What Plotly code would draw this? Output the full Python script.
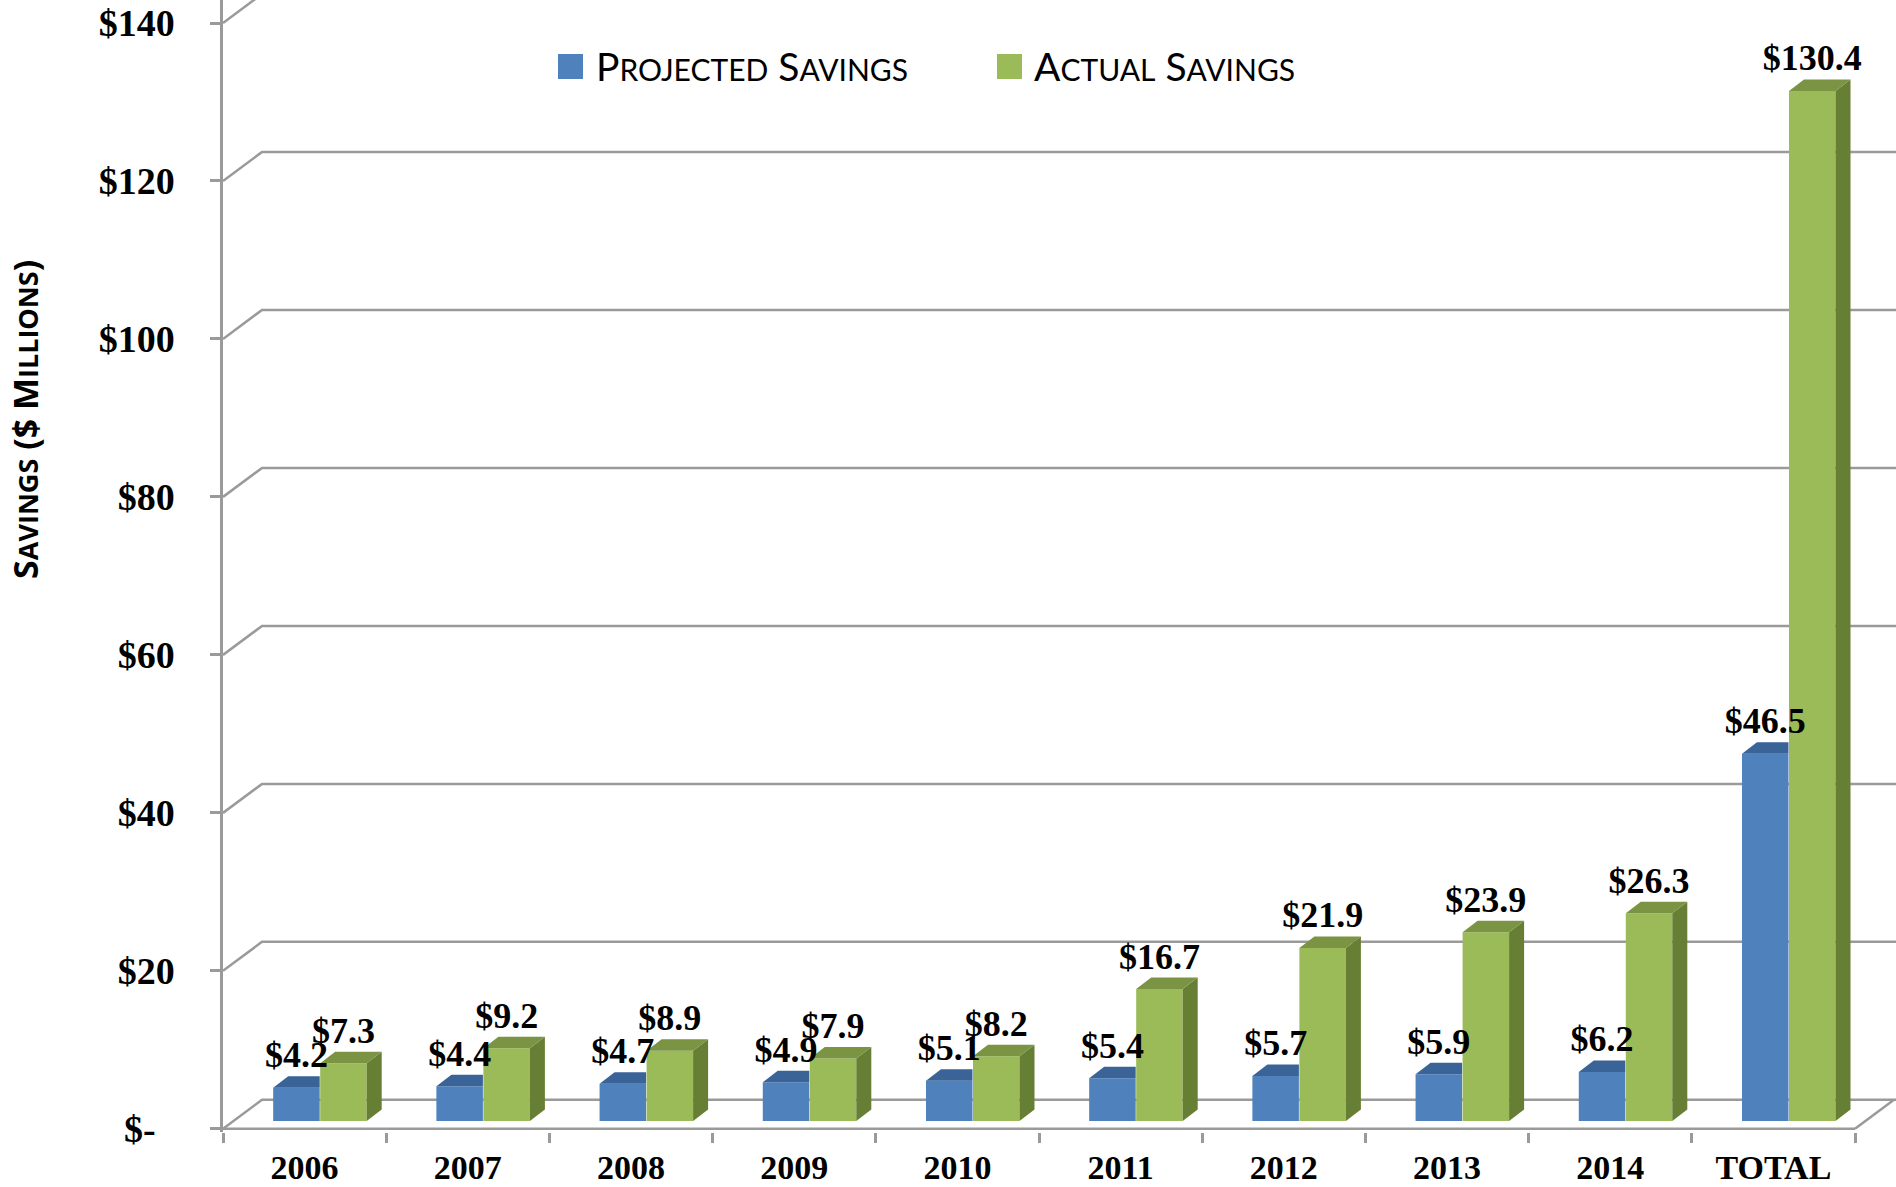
import plotly.graph_objects as go

# ---------------- data ----------------
categories = ["2006", "2007", "2008", "2009", "2010", "2011", "2012", "2013", "2014", "TOTAL"]
projected = [4.2, 4.4, 4.7, 4.9, 5.1, 5.4, 5.7, 5.9, 6.2, 46.5]
actual = [7.3, 9.2, 8.9, 7.9, 8.2, 16.7, 21.9, 23.9, 26.3, 130.4]
series_names = ["Projected Savings", "Actual Savings"]
y_tickvals = [0, 20, 40, 60, 80, 100, 120, 140]
y_ticktext = ["$-\u00a0\u00a0", "$20", "$40", "$60", "$80", "$100", "$120", "$140"]
y_title = "Savings ($ Millions)"

# ---------------- style / geometry ----------------
W, H = 1896, 1187
PX_CAT = 163.2          # px per category
PX_UNIT = 7.9           # px per $M
ML = 223                # left margin (front y-axis line)
Y0_PX = 1129            # pixel of value 0 on the front plane
Y_MIN = -0.4
PLOT_W = W - ML
X_MIN = -0.5
X_MAX = X_MIN + PLOT_W / PX_CAT
Y_MAX = Y0_PX / PX_UNIT
PLOT_BOTTOM = Y0_PX - Y_MIN * PX_UNIT
MB = H - PLOT_BOTTOM
PLOT_H = PLOT_BOTTOM

BLUE, BLUE_TOP = "#4F81BD", "#3A6498"
GREEN, GREEN_TOP, GREEN_SIDE = "#9BBB59", "#7A9444", "#667F35"
GRID = "#9A9A9A"

BW = 0.285              # bar width (category units)
OFF_P, OFF_A = -0.05, 0.238
BASE = 1.0              # bars stand on the middle of the floor depth
SDX, SDY = 15 / PX_CAT, 11.5 / PX_UNIT      # bar extrusion
DXB, DYB = 39 / PX_CAT, 29 / PX_UNIT        # back-wall offset

SERIF = "Liberation Serif"
SANS = "Lato"
SANS_BOLD = "Open Sans"

def small_caps(s, small):
    out = []
    for ch in s:
        if ch.islower():
            out.append(f"<span style='font-size:{small}px'>{ch.upper()}</span>")
        else:
            out.append(ch)
    return "".join(out).replace("</span><span style='font-size:%dpx'>" % small, "")

def px_x(px):
    return (px - ML) / PLOT_W

def px_y(py):
    return (PLOT_BOTTOM - py) / PLOT_H

idx = list(range(len(categories)))
xp = [i + OFF_P for i in idx]
xa = [i + OFF_A for i in idx]

fig = go.Figure()

# front faces
fig.add_trace(go.Bar(x=xp, y=projected, base=BASE, width=BW, name=series_names[0],
                     marker=dict(color=BLUE, line=dict(width=0)), showlegend=False,
                     hoverinfo="skip"))
fig.add_trace(go.Bar(x=xa, y=actual, base=BASE, width=BW, name=series_names[1],
                     marker=dict(color=GREEN, line=dict(width=0)), showlegend=False,
                     hoverinfo="skip"))

def poly_trace(polys, color):
    xs, ys = [], []
    for p in polys:
        for (a, b) in p + [p[0]]:
            xs.append(a)
            ys.append(b)
        xs.append(None)
        ys.append(None)
    return go.Scatter(x=xs, y=ys, mode="lines", fill="toself", fillcolor=color,
                      line=dict(width=0, color=color), showlegend=False, hoverinfo="skip")

# blue tops (clipped at green front face)
blue_tops = []
for x, v in zip(xp, projected):
    l, r, t = x - BW / 2, x + BW / 2, BASE + v
    blue_tops.append([(l, t), (l + SDX, t + SDY), (r, t + SDY), (r, t)])
green_tops, green_sides = [], []
for x, v in zip(xa, actual):
    l, r, t = x - BW / 2, x + BW / 2, BASE + v
    green_tops.append([(l, t), (l + SDX, t + SDY), (r + SDX, t + SDY), (r, t)])
    green_sides.append([(r, BASE), (r + SDX, BASE + SDY), (r + SDX, t + SDY), (r, t)])

fig.add_trace(poly_trace(blue_tops, BLUE_TOP))
fig.add_trace(poly_trace(green_sides, GREEN_SIDE))
fig.add_trace(poly_trace(green_tops, GREEN_TOP))

# data labels
for xs_, vals in ((xp, projected), (xa, actual)):
    fig.add_trace(go.Scatter(
        x=xs_, y=[BASE + v + SDY for v in vals], mode="text",
        text=[f"${v:.1f}" for v in vals], textposition="top center",
        textfont=dict(family=SERIF, size=36, color="black", weight="bold"),
        cliponaxis=False, showlegend=False, hoverinfo="skip"))

# 3D gridlines / floor
shapes = []
for v in y_tickvals:
    shapes.append(dict(type="path", xref="x", yref="y", layer="below",
                       path=f"M {X_MIN},{v} L {X_MIN + DXB},{v + DYB} L {X_MAX},{v + DYB}",
                       line=dict(color=GRID, width=2.5)))
n = len(categories)
shapes.append(dict(type="line", xref="x", yref="y", layer="below",
                   x0=X_MIN, y0=0, x1=n - 0.5, y1=0, line=dict(color=GRID, width=2.5)))
shapes.append(dict(type="line", xref="x", yref="y", layer="below",
                   x0=n - 0.5, y0=0, x1=n - 0.5 + DXB, y1=DYB, line=dict(color=GRID, width=2.5)))

# legend (manual, to match square size)
legend_items = [(series_names[0], BLUE, 558, 597), (series_names[1], GREEN, 997, 1035)]
annotations = []
for name, col, sq_x, tx in legend_items:
    shapes.append(dict(type="rect", xref="paper", yref="paper",
                       x0=px_x(sq_x), x1=px_x(sq_x + 25), y0=px_y(79), y1=px_y(54),
                       fillcolor=col, line=dict(width=0)))
    annotations.append(dict(xref="paper", yref="paper", x=px_x(tx - 3), y=px_y(66),
                            xanchor="left", yanchor="middle", showarrow=False,
                            text=small_caps(name, 30),
                            font=dict(family=SANS, size=39, color="black")))

annotations.append(dict(xref="paper", yref="paper", x=px_x(0), y=px_y(420),
                        xanchor="left", yanchor="middle", showarrow=False, textangle=-90,
                        text=small_caps(y_title, 27),
                        font=dict(family=SANS_BOLD, size=34, color="black", weight="bold")))

fig.update_layout(
    width=W, height=H,
    margin=dict(l=ML, r=0, t=0, b=MB, pad=0),
    paper_bgcolor="white", plot_bgcolor="white",
    barmode="overlay", showlegend=False,
    shapes=shapes, annotations=annotations,
    xaxis=dict(range=[X_MIN, X_MAX], tickmode="array", tickvals=idx, ticktext=categories,
               ticks="", showline=False, showgrid=False, zeroline=False,
               tickfont=dict(family=SERIF, size=34, color="black", weight="bold"),
               ticklabelstandoff=12,
               minor=dict(tickmode="linear", tick0=-0.5, dtick=1, ticks="outside",
                          ticklen=10, tickwidth=2.5, tickcolor=GRID, showgrid=False)),
    yaxis=dict(range=[Y_MIN, Y_MAX], tickmode="array", tickvals=y_tickvals, ticktext=y_ticktext,
               ticks="outside", ticklen=10, tickwidth=2.5, tickcolor=GRID,
               showline=True, linecolor=GRID, linewidth=2.5,
               showgrid=False, zeroline=False, ticklabelstandoff=28,
               tickfont=dict(family=SERIF, size=38, color="black", weight="bold")),
)

fig.write_html("out.html", config={"displayModeBar": False},
               post_script="document.body.style.margin='0';document.body.style.overflow='hidden';")
